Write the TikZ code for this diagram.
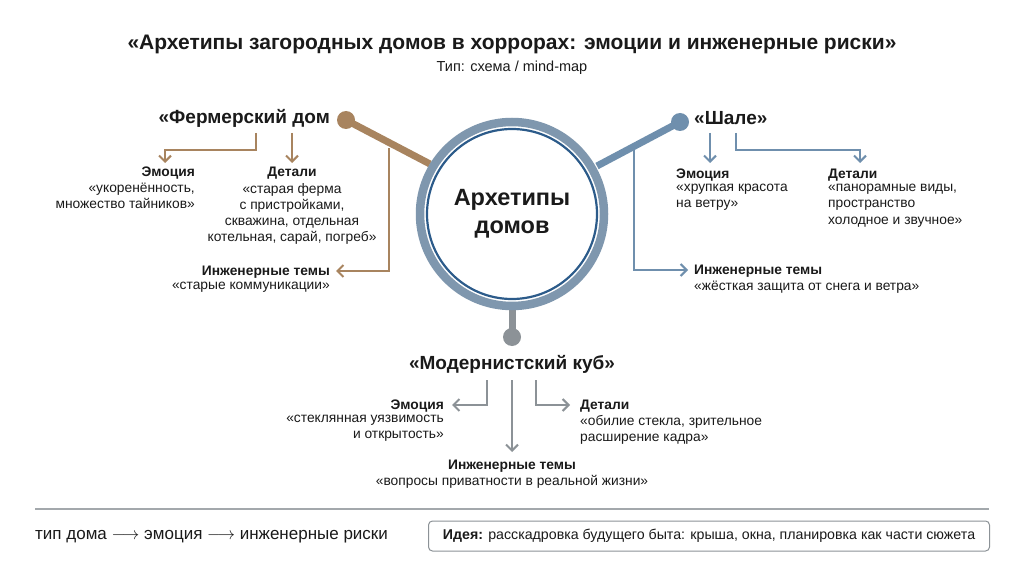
\documentclass[tikz,border=0pt]{standalone}
\usepackage{fontspec}
\setmainfont{Liberation Sans}
\usetikzlibrary{arrows.meta}
\definecolor{brn}{HTML}{A8845F}
\definecolor{blu}{HTML}{6F8FAD}
\definecolor{gry}{HTML}{8C9297}
\definecolor{ringc}{HTML}{7F97AE}
\definecolor{ringd}{HTML}{2C5B8A}
\definecolor{txt}{HTML}{1A1A1A}
\tikzset{
 body/.style={font=\fontsize{13.8}{16.2}\selectfont, text=txt, inner sep=0pt, align=center},
 hd/.style={font=\fontsize{13.8}{16}\selectfont\bfseries, text=txt, inner sep=0pt},
 br/.style={font=\fontsize{19}{22}\selectfont\bfseries, text=txt, inner sep=0pt},
 stem/.style={line width=7pt},
 conn/.style={line width=2pt, -{Straight Barb[length=6pt,width=12pt]}},
}
\begin{document}
\begin{tikzpicture}[x=1pt,y=-1pt]
\useasboundingbox[fill=white] (0,0) rectangle (1024,572);
\node[font=\fontsize{21}{24}\selectfont\bfseries, text=txt] (title) at (512,44) {«Архетипы загородных домов в хоррорах: эмоции и инженерные риски»};
\node[font=\fontsize{14.5}{17}\selectfont, text=txt] (sub) at (512,68) {Тип: схема / mind-map};
% stems
\coordinate (c) at (512,214);
\draw[brn,stem] (346,120) -- (430,164);
\fill[brn] (346,120) circle (9) coordinate (ldot);
\draw[blu,stem] (680,122) -- (597,166);
\fill[blu] (680,122) circle (9) coordinate (rdot);
\draw[gry,stem] (512,300) -- (512,337);
\fill[gry] (512,337) circle (9) coordinate (bdot);
% circle
\node[circle, draw=ringc, line width=8.5pt, fill=white, minimum size=184pt, inner sep=0pt] (hub) at (c) {};
\draw[ringd, line width=2.2pt] (c) circle (85);
\node[font=\fontsize{23.5}{28}\selectfont\bfseries, text=txt, align=center] (hubt) at (512,214) {Архетипы\\домов};
% left branch
\node[br, anchor=east] (farm) at (330,118) {«Фермерский дом};
\draw[brn,conn] (256,133) -- (256,150) -- (165,150) -- (165,163);
\draw[brn,conn] (292,133) -- (292,163);
\draw[brn,conn] (389,148) -- (389,271) -- (336,271);
\node[hd, anchor=east] (le) at (195,173) {Эмоция};
\node[body, anchor=north east, align=right] (let) at (195,183) {«укоренённость,\\множество тайников»};
\node[hd] (ld) at (292,173) {Детали};
\node[body, anchor=north] (ldt) at (292,183) {«старая ферма\\с пристройками,\\скважина, отдельная\\котельная, сарай, погреб»};
\node[hd, anchor=east] (li) at (330,272) {Инженерные темы};
\node[body, anchor=north east] (lit) at (330,282) {«старые коммуникации»};
% right branch
\node[br, anchor=west] (shale) at (694,118) {«Шале»};
\draw[blu,conn] (710,133) -- (710,163);
\draw[blu,conn] (736,133) -- (736,150) -- (860,150) -- (860,163);
\draw[blu,conn] (634,150) -- (634,270) -- (688,270);
\node[hd, anchor=west] (re) at (676,175) {Эмоция};
\node[body, anchor=north west, align=left] (ret) at (676,184) {«хрупкая красота\\на ветру»};
\node[hd, anchor=west] (rd) at (828,175) {Детали};
\node[body, anchor=north west, align=left] (rdt) at (828,184) {«панорамные виды,\\пространство\\холодное и звучное»};
\node[hd, anchor=west] (ri) at (694,271) {Инженерные темы};
\node[body, anchor=north west] (rit) at (694,281) {«жёсткая защита от снега и ветра»};
% bottom branch
\node[br] (cube) at (512,364) {«Модернистский куб»};
\draw[gry,conn] (487,380) -- (487,405) -- (452,405);
\draw[gry,conn] (512,380) -- (512,452);
\draw[gry,conn] (536,380) -- (536,405) -- (570,405);
\node[hd, anchor=east] (be) at (444,406) {Эмоция};
\node[body, anchor=north east, align=right] (bet) at (444,415) {«стеклянная уязвимость\\и открытость»};
\node[hd, anchor=west] (bd) at (580,406) {Детали};
\node[body, anchor=north west, align=left] (bdt) at (580,415) {«обилие стекла, зрительное\\расширение кадра»};
\node[hd] (bi) at (512,466) {Инженерные темы};
\node[body, anchor=north] (bit) at (512,475) {«вопросы приватности в реальной жизни»};
% footer
\draw[gry!80, line width=1.2pt] (35,509) coordinate (fl) -- (989,509) coordinate (fr);
\node[font=\fontsize{17}{20}\selectfont, text=txt, anchor=west, inner sep=0pt] (leg) at (35,537) {тип дома \(\longrightarrow\) эмоция \(\longrightarrow\) инженерные риски};
\node[draw=gry, rounded corners=4pt, line width=1pt, minimum width=561pt, minimum height=30pt, anchor=west, font=\fontsize{14.2}{16}\selectfont, text=txt] (idea) at (428,536) {\textbf{Идея:} расскадровка будущего быта: крыша, окна, планировка как части сюжета};
\end{tikzpicture}
\end{document}
